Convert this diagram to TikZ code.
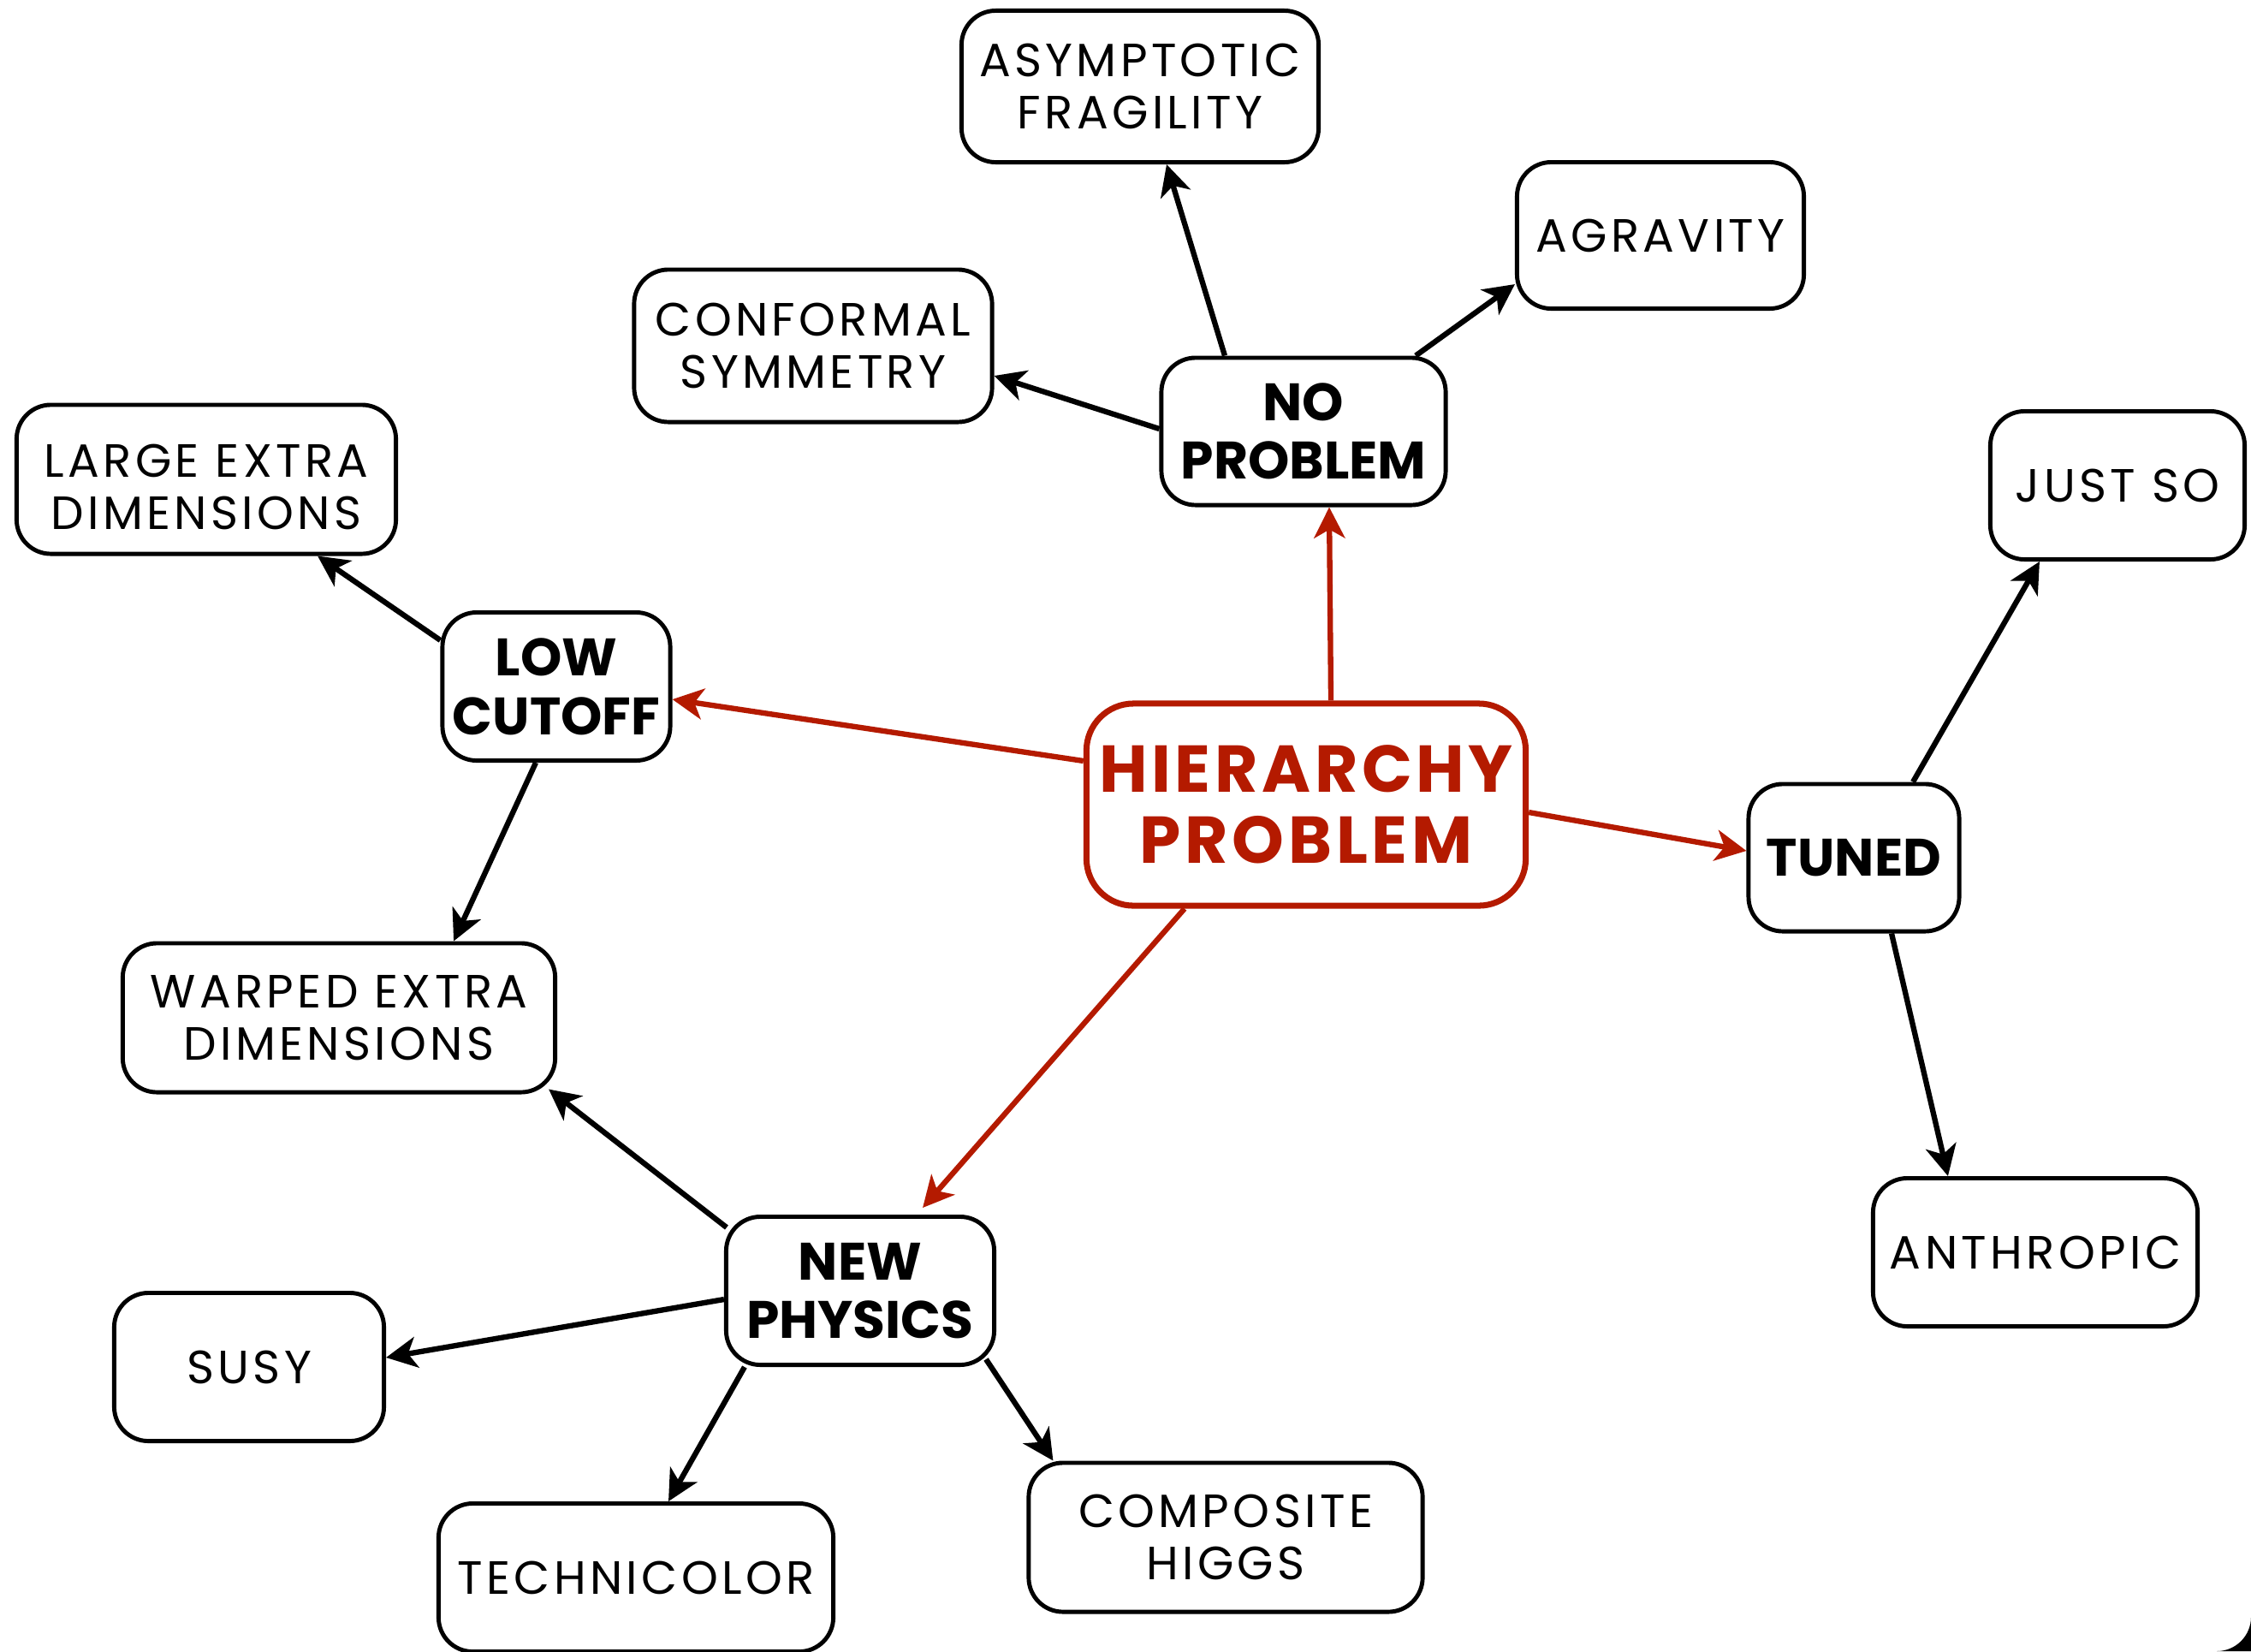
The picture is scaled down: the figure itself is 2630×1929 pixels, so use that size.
\documentclass[tikz,border=0pt]{standalone}
\usepackage{fontspec}
\setmainfont{Poppins}
\usetikzlibrary{arrows.meta}
\definecolor{hred}{HTML}{B41A00}
\begin{document}
\begin{tikzpicture}[x=0.01cm,y=-0.01cm,
  box/.style={draw=black, line width=1.4pt, rounded corners=0.4cm, align=center, inner sep=0pt, fill=white},
  leaf/.style={box, font=\fontsize{15.5}{17.5}\selectfont\addfontfeatures{LetterSpace=8}},
  cat/.style={box, font=\bfseries\fontsize{17.5}{19.5}\selectfont},
  root/.style={box, draw=hred, text=hred, line width=2pt, rounded corners=0.55cm, font=\bfseries\fontsize{22}{23.5}\selectfont\addfontfeatures{LetterSpace=6}},
  arr/.style={-{Stealth[length=0.36cm,width=0.36cm,inset=0.1cm]}, line width=1.8pt, draw=black},
  rarr/.style={arr, draw=hred, fill=hred}]
\useasboundingbox[fill=white] (0,0) rectangle (2630,1929);

\node[root, minimum width=5.13cm, minimum height=2.36cm] (hier) at (1526,940) {HIERARCHY\\PROBLEM};

\node[cat, minimum width=3.32cm, minimum height=1.72cm] (noprob) at (1523,504) {NO\\PROBLEM};
\node[cat, minimum width=2.66cm, minimum height=1.73cm] (low) at (650,802) {LOW\\CUTOFF};
\node[cat, minimum width=2.46cm, minimum height=1.72cm] (tuned) at (2166,1002) {TUNED};
\node[cat, minimum width=3.13cm, minimum height=1.73cm] (newphys) at (1005,1508) {NEW\\PHYSICS};

\node[leaf, minimum width=4.17cm, minimum height=1.77cm] (asym) at (1332,101) {ASYMPTOTIC\\FRAGILITY};
\node[leaf, minimum width=3.35cm, minimum height=1.71cm] (agrav) at (1940,275) {AGRAVITY};
\node[leaf, minimum width=4.18cm, minimum height=1.78cm] (conf) at (950,404) {CONFORMAL\\SYMMETRY};
\node[leaf, minimum width=4.43cm, minimum height=1.74cm] (large) at (241,560) {\rule{0pt}{0.56cm}LARGE EXTRA\\DIMENSIONS};
\node[leaf, minimum width=2.97cm, minimum height=1.73cm] (justso) at (2474,567) {JUST SO};
\node[leaf, minimum width=5.05cm, minimum height=1.74cm] (warped) at (396,1189) {WARPED EXTRA\\DIMENSIONS};
\node[leaf, minimum width=3.79cm, minimum height=1.73cm] (anthro) at (2378,1463) {ANTHROPIC};
\node[leaf, minimum width=3.15cm, minimum height=1.73cm] (susy) at (291,1597) {SUSY};
\node[leaf, minimum width=4.60cm, minimum height=1.74cm] (comp) at (1432,1796) {COMPOSITE\\HIGGS};
\node[leaf, minimum width=4.61cm, minimum height=1.73cm] (techni) at (743,1843) {TECHNICOLOR};

% red arrows
\draw[rarr] ([xshift=0.29cm]hier.north) -- ([xshift=0.30cm]noprob.south);
\draw[rarr] ([yshift=0.51cm]hier.west) -- ([yshift=-0.15cm]low.east);
\draw[rarr] ([yshift=-0.09cm]hier.east) -- ([yshift=0.08cm]tuned.west);
\draw[rarr] ([xshift=-1.42cm]hier.south) -- ([xshift=0.73cm,yshift=0.08cm]newphys.north);

% black arrows
\draw[arr] ([xshift=-0.92cm]noprob.north) -- ([xshift=0.31cm]asym.south);
\draw[arr] ([xshift=1.31cm]noprob.north) -- ([yshift=-0.57cm]agrav.west);
\draw[arr] ([yshift=0.03cm]noprob.west) -- ([yshift=-0.35cm]conf.east);
\draw[arr] ([yshift=0.54cm]low.west) -- ([xshift=1.30cm]large.south);
\draw[arr] ([xshift=-0.24cm]low.south) -- ([xshift=1.34cm]warped.north);
\draw[arr] ([xshift=0.69cm]tuned.north) -- ([xshift=-0.91cm]justso.south);
\draw[arr] ([xshift=0.44cm]tuned.south) -- ([xshift=-1.02cm]anthro.north);
\draw[arr] ([xshift=0.03cm,yshift=-0.15cm]newphys.north west) -- ([xshift=-0.10cm,yshift=0.06cm]warped.south east);
\draw[arr] ([yshift=-0.10cm]newphys.west) -- ([yshift=0.11cm]susy.east);
\draw[arr] ([xshift=-1.35cm]newphys.south) -- ([xshift=0.38cm]techni.north);
\draw[arr] ([xshift=-0.12cm,yshift=0.09cm]newphys.south east) -- ([xshift=0.31cm]comp.north west);

% screenshot corner
\fill[black] (2630,1889) -- (2630,1929) -- (2590,1929) arc[start angle=270, end angle=360, radius=0.4cm] -- cycle;
\end{tikzpicture}
\end{document}
